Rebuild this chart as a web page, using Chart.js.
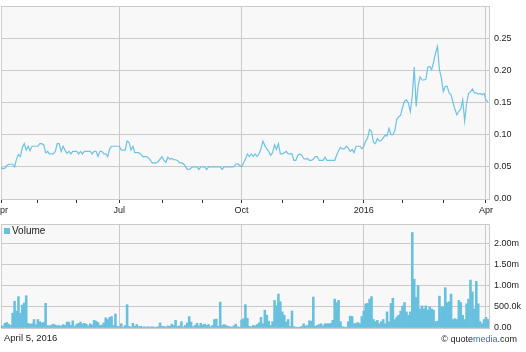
<!DOCTYPE html>
<html>
<head>
<meta charset="utf-8">
<title>Price and volume</title>
<script src="https://cdn.jsdelivr.net/npm/chart.js@4/dist/chart.umd.min.js"></script>
<style>
  body { margin: 0; background: #fff; }
  #wrap { position: relative; width: 526px; height: 352px; overflow: hidden;
          font-family: "Liberation Sans", Arial, sans-serif; color: #222; }
  #priceCanvas { position: absolute; left: 0; top: 0; }
  #volCanvas { position: absolute; left: 0; top: 215px; }
  #legend { position: absolute; left: 4px; top: 226px; font-size: 10px; line-height: 10px; }
  #legend i { display: inline-block; width: 6px; height: 6px; background: #68c0df; margin-right: 2px; }
  #date { position: absolute; left: 4px; top: 333px; font-size: 9.5px; line-height: 10px; }
  #credit { position: absolute; right: 9px; top: 334px; font-size: 9px; line-height: 10px; }
  #credit span { color: #2f6fc0; }
</style>
</head>
<body>
<div id="wrap">
  <canvas id="priceCanvas" width="526" height="220"></canvas>
  <canvas id="volCanvas" width="526" height="137"></canvas>
  <div id="legend"><i></i>Volume</div>
  <div id="date">April 5, 2016</div>
  <div id="credit">&copy; quote<span>media</span>.com</div>
</div>
<script>
// daily closes, Apr 2015 - Apr 2016 (one value per trading day)
var closes = [
  0.050, 0.047, 0.048, 0.052, 0.054, 0.054, 0.054, 0.050, 0.062, 0.069,
  0.066, 0.080, 0.086, 0.076, 0.082, 0.075, 0.082, 0.082, 0.082, 0.082,
  0.086, 0.086, 0.084, 0.072, 0.074, 0.070, 0.070, 0.070, 0.074, 0.086,
  0.086, 0.074, 0.082, 0.076, 0.071, 0.074, 0.070, 0.074, 0.074, 0.074,
  0.070, 0.074, 0.070, 0.074, 0.074, 0.074, 0.074, 0.070, 0.074, 0.074,
  0.066, 0.074, 0.074, 0.070, 0.070, 0.066, 0.078, 0.082, 0.082, 0.082,
  0.082, 0.082, 0.076, 0.076, 0.076, 0.090, 0.088, 0.076, 0.082, 0.072,
  0.072, 0.072, 0.070, 0.066, 0.066, 0.066, 0.064, 0.060, 0.056, 0.056,
  0.056, 0.058, 0.062, 0.066, 0.060, 0.057, 0.065, 0.062, 0.063, 0.061,
  0.061, 0.060, 0.056, 0.056, 0.055, 0.051, 0.046, 0.046, 0.048, 0.050,
  0.050, 0.050, 0.046, 0.050, 0.050, 0.050, 0.046, 0.050, 0.050, 0.050,
  0.050, 0.050, 0.050, 0.050, 0.046, 0.050, 0.050, 0.050, 0.050, 0.050,
  0.050, 0.054, 0.055, 0.052, 0.050, 0.056, 0.062, 0.070, 0.066, 0.070,
  0.066, 0.070, 0.066, 0.070, 0.078, 0.090, 0.083, 0.078, 0.074, 0.068,
  0.072, 0.084, 0.077, 0.086, 0.070, 0.070, 0.072, 0.074, 0.070, 0.070,
  0.070, 0.060, 0.060, 0.068, 0.070, 0.068, 0.063, 0.062, 0.063, 0.060,
  0.060, 0.062, 0.066, 0.066, 0.060, 0.060, 0.060, 0.065, 0.060, 0.060,
  0.060, 0.060, 0.060, 0.068, 0.075, 0.080, 0.078, 0.078, 0.082, 0.079,
  0.074, 0.077, 0.072, 0.082, 0.082, 0.082, 0.078, 0.082, 0.090, 0.095,
  0.108, 0.105, 0.088, 0.086, 0.094, 0.090, 0.091, 0.095, 0.099, 0.098,
  0.110, 0.100, 0.100, 0.106, 0.124, 0.128, 0.130, 0.143, 0.152, 0.154,
  0.149, 0.136, 0.160, 0.205, 0.144, 0.176, 0.190, 0.185, 0.185, 0.186,
  0.205, 0.206, 0.201, 0.213, 0.227, 0.237, 0.201, 0.188, 0.167, 0.175,
  0.175, 0.165, 0.162, 0.150, 0.139, 0.131, 0.136, 0.140, 0.154, 0.121,
  0.148, 0.164, 0.167, 0.171, 0.165, 0.165, 0.163, 0.164, 0.162, 0.164,
  0.154, 0.151
];

// daily volume, thousands of shares
var volumes = [
    60,   40,  110,  130,   90,   60,  350,  630,  400,  740,
   350,  540,  590,  760,  110,   90,  100,  200,   80,  200,
   150,  120,  130,  580,   60,   50,   70,   90,   70,   50,
    60,   40,   80,   60,  140,  140,   60,  170,   40,   90,
   110,  140,   90,  110,   90,   50,  100,   70,  180,  160,
   130,   60,   70,  120,  240,  200,  250,  270,   60,  330,
    40,   30,  100,   20,   60,  550,   40,   20,  110,   40,
    80,   30,   40,   20,   30,   20,   30,   20,   30,   20,
    20,   30,  120,   40,   40,   20,   50,   40,   90,   60,
   180,   40,   50,  150,   30,   60,  120,  270,  140,   30,
    60,  110,   50,  110,   70,   90,   60,   80,   30,   60,
   200,  210,   40,  610,   60,   80,   60,   40,   30,   20,
    50,   90,   30,   20,  190,  220,  550,  230,   40,   30,
    60,   50,   80,  120,  250,  100,  420,  300,  160,   60,
   150,  650,  530,  800,  620,  380,  300,  140,  200,   40,
   400,   30,   20,   10,   20,   40,  100,   50,   60,  170,
   160,  730,   40,   60,   80,  100,   50,  100,  100,  100,
   110,  180,  680,  600,  650,  150,   30,   20,   20,  150,
   280,  270,  100,  110,  130,  100,  270,  400,  570,  580,
   680,  740,  200,  150,  180,  100,  150,  200,  100,  380,
   150,  580,  700,  200,  260,  300,  400,  520,  600,  380,
   300,  380, 2250, 1150,  720, 1000,  450,  520,  450,  520,
   420,  500,  450,  420,  150,  160,  750,  500,  500,  950,
   600,  620,  800,  200,  220,  200,  650,  600,  300,  200,
   570,  680, 1130,  850,  450, 1100,  570,  150,  100,  200,
   250,  200
];

// month starts, as trading-day positions, and their labels
var monthTicks = [0, 19, 39, 61, 83, 104, 124, 145, 166, 187, 207, 228, 250];
var monthLabels = ["Apr", "", "", "Jul", "", "", "Oct", "", "", "2016", "", "", "Apr"];

var priceTicks = [0, 0.05, 0.10, 0.15, 0.20, 0.25];
var volumeTicks = [0, 500, 1000, 1500, 2000];
var volumeTickLabels = ["0.00", "500.0k", "1.00m", "1.50m", "2.00m"];

var lineColor = "#6cc3e3";
var barColor = "#68c0df";
var gridColor = "#cacaca";
var textColor = "#222";
var tickFont = { family: "Liberation Sans", size: 9 };

var plotBg = {
  id: "plotBg",
  beforeDraw: function(chart) {
    var a = chart.chartArea;
    var c = chart.ctx;
    c.save();
    c.fillStyle = "#f8f8f8";
    c.fillRect(a.left, a.top, a.right - a.left, a.bottom - a.top);
    c.restore();
  }
};

function monthGrid(ctx) {
  return monthLabels[ctx.index] ? gridColor : "rgba(0,0,0,0)";
}

function setMonthTicks(scale) {
  scale.ticks = monthTicks.map(function(v) { return { value: v }; });
}

var lastDay = 251.55;

new Chart(document.getElementById("priceCanvas"), {
  type: "line",
  data: {
    datasets: [{
      data: closes.map(function(v, i) { return { x: i, y: v }; }),
      borderColor: lineColor,
      borderWidth: 1.2,
      pointRadius: 0,
      tension: 0,
      fill: false
    }]
  },
  options: {
    responsive: false,
    animation: false,
    layout: { padding: { left: 1, top: 6, right: 0, bottom: 0 } },
    plugins: { legend: { display: false }, tooltip: { enabled: false } },
    scales: {
      x: {
        type: "linear",
        min: 0,
        max: lastDay,
        afterBuildTicks: setMonthTicks,
        afterFit: function(s) { s.height = 21; s.paddingLeft = 0; s.paddingRight = 0; },
        grid: { color: monthGrid, tickColor: "#333", tickLength: 4 },
        border: { color: gridColor },
        ticks: {
          autoSkip: false,
          maxRotation: 0,
          padding: 2,
          color: textColor,
          font: tickFont,
          callback: function(v) { return monthLabels[monthTicks.indexOf(v)]; }
        }
      },
      y: {
        position: "right",
        min: 0,
        max: 0.30,
        afterBuildTicks: function(s) {
          s.ticks = priceTicks.concat([0.30]).map(function(v) { return { value: v }; });
        },
        afterFit: function(s) { s.width = 37; s.paddingTop = 0; s.paddingBottom = 0; },
        grid: { color: gridColor, drawTicks: false },
        border: { color: gridColor },
        ticks: {
          padding: 5,
          color: textColor,
          font: tickFont,
          callback: function(v) { return v > 0.26 ? "" : v.toFixed(2); }
        }
      }
    }
  },
  plugins: [plotBg]
});

new Chart(document.getElementById("volCanvas"), {
  type: "bar",
  data: {
    datasets: [{
      data: volumes.map(function(v, i) { return { x: i, y: v }; }),
      backgroundColor: barColor,
      borderWidth: 0,
      barPercentage: 1,
      categoryPercentage: 1
    }]
  },
  options: {
    responsive: false,
    animation: false,
    layout: { padding: { left: 1, top: 9, right: 0, bottom: 24 } },
    plugins: { legend: { display: false }, tooltip: { enabled: false } },
    scales: {
      x: {
        type: "linear",
        min: 0,
        max: lastDay,
        offset: false,
        afterBuildTicks: setMonthTicks,
        afterFit: function(s) { s.height = 0; s.paddingLeft = 0; s.paddingRight = 0; },
        grid: { color: monthGrid, drawTicks: false, offset: false },
        border: { color: gridColor },
        ticks: { display: false }
      },
      y: {
        position: "right",
        min: 0,
        max: 2450,
        afterBuildTicks: function(s) {
          s.ticks = volumeTicks.concat([2450]).map(function(v) { return { value: v }; });
        },
        afterFit: function(s) { s.width = 37; s.paddingTop = 0; s.paddingBottom = 0; },
        grid: { color: gridColor, drawTicks: false },
        border: { color: gridColor },
        ticks: {
          padding: 5,
          color: textColor,
          font: tickFont,
          callback: function(v) {
            var k = volumeTicks.indexOf(v);
            return k < 0 ? "" : volumeTickLabels[k];
          }
        }
      }
    }
  },
  plugins: [plotBg]
});
</script>
</body>
</html>
